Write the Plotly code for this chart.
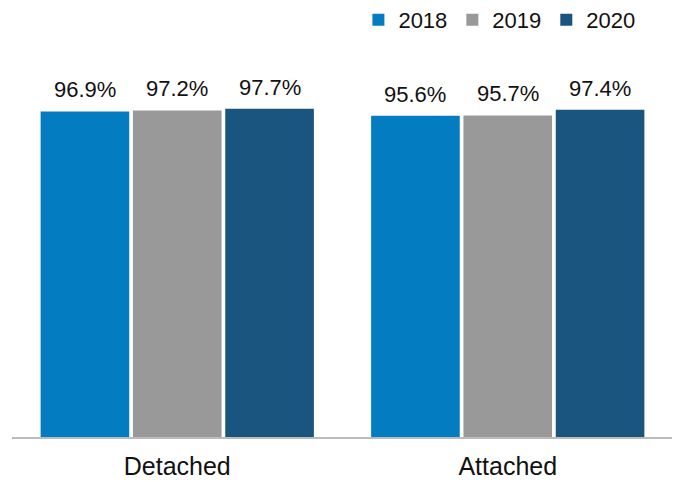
import plotly.graph_objects as go

categories = ["Detached", "Attached"]
years = ["2018", "2019", "2020"]
values_2018 = [96.9, 95.6]
values_2019 = [97.2, 95.7]
values_2020 = [97.7, 97.4]
colors = ["#047CC1", "#999999", "#1A5580"]

series = [values_2018, values_2019, values_2020]
bargap = 0.162
n = len(series)
slot = (1 - bargap) / n

fig = go.Figure()
annotations = []
for j, (yr, vals, col) in enumerate(zip(years, series, colors)):
    fig.add_trace(go.Bar(
        x=categories, y=vals, name=yr,
        marker=dict(color=col, line=dict(width=0)),
        hoverinfo="x+y+name",
    ))
    for i, v in enumerate(vals):
        annotations.append(dict(
            x=i + (j - (n - 1) / 2) * slot, y=v, xref="x", yref="y",
            text=f"{v:.1f}%", showarrow=False, yanchor="bottom",
            yshift=7, font=dict(size=22, color="#111111"),
        ))

fig.update_layout(
    width=680, height=482,
    margin=dict(l=4, r=15, t=93, b=53),
    barmode="group", bargap=bargap, bargroupgap=0.04,
    plot_bgcolor="white", paper_bgcolor="white",
    font=dict(family="Liberation Sans, Arial, sans-serif", color="#111111"),
    showlegend=True,
    legend=dict(orientation="h", xref="container", yref="container",
                x=0.93, xanchor="right", y=0.975, yanchor="middle",
                font=dict(size=22), traceorder="normal"),
    xaxis=dict(showline=True, linecolor="#BBBBBB", linewidth=2, ticks="",
               tickfont=dict(size=25), ticklabelstandoff=6,
               showgrid=False, range=[-0.5, 1.5]),
    yaxis=dict(range=[0, 100], visible=False, showgrid=False),
    annotations=annotations,
)

fig.write_html("out.html")
